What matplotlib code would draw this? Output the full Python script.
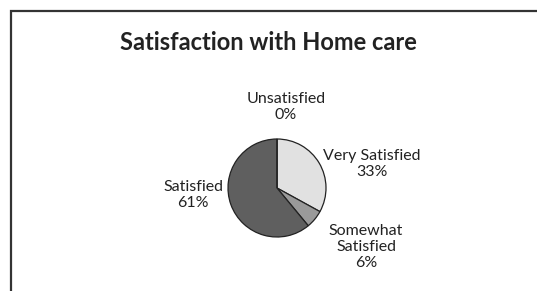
import matplotlib
matplotlib.use("Agg")
import matplotlib.pyplot as plt

title = "Satisfaction with Home care"
categories = ["Very Satisfied", "Somewhat\nSatisfied", "Satisfied", "Unsatisfied"]
values = [33, 6, 61, 0]
colors = ["#e1e1e1", "#9a9a9a", "#5f5f5f", "#ffffff"]
# label centres in pixel coords (x, y from bottom)
label_pos = [(372, 127), (366, 44), (193, 96), (286, 184)]

W, H = 537, 291
fig = plt.figure(figsize=(W / 100, H / 100), dpi=100)
ax = fig.add_axes([0, 0, 1, 1])

font = "Lato"

ax.pie(values, colors=colors, startangle=90, counterclock=False,
       center=(277, H - 188), radius=49,
       wedgeprops=dict(edgecolor="#222222", linewidth=0.9), frame=True)
ax.set_xlim(0, W)
ax.set_ylim(0, H)
ax.set_aspect("auto")
ax.axis("off")

# border (only top and left visible)
ax.plot([11, 11, W + 5], [-5, H - 10.5, H - 10.5], color="#333333",
        linewidth=1.6, solid_joinstyle="miter", clip_on=False)

ax.text(268, H - 43, title, ha="center", va="center", fontsize=17,
        fontweight="bold", family=font, color="#222222")

for cat, v, (x, y) in zip(categories, values, label_pos):
    ax.text(x, y, f"{cat}\n{v}%", ha="center", va="center", fontsize=11.5,
            family=font, color="#222222", linespacing=1.15)

fig.savefig("out.png", dpi=100)
